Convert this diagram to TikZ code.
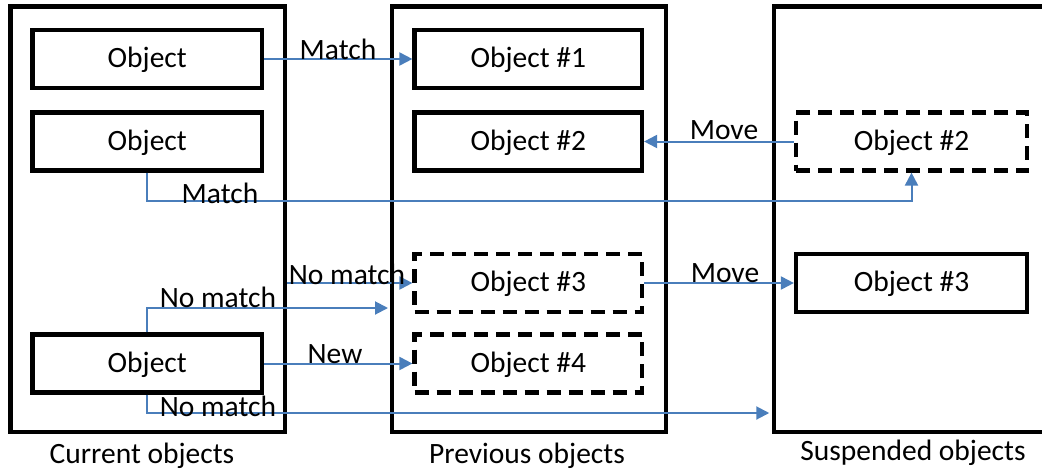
\documentclass[tikz,border=0pt]{standalone}
\usepackage{fontspec}
\setmainfont{Carlito}
\usetikzlibrary{arrows.meta}
\definecolor{linkblue}{RGB}{74,126,187}
\begin{document}
\begin{tikzpicture}[x=1pt,y=-1pt,
  colbox/.style={draw,line width=4.5pt,minimum width=#1,minimum height=425.5pt,inner sep=0pt},
  obj/.style={draw,line width=4.2pt,minimum width=#1,minimum height=58pt,inner sep=0pt,
    text height=17pt,text depth=0pt,font=\fontsize{29.5}{35}\selectfont},
  ghost/.style={dash pattern=on 14pt off 8pt},
  link/.style={linkblue,line width=2pt,-{Triangle[length=13pt,width=13pt]}},
  lbl/.style={anchor=base,inner sep=0pt,font=\fontsize{29.5}{35}\selectfont}
]
\useasboundingbox (0,0) rectangle (1042,469);
\clip (0,0) rectangle (1042,469);

% the three columns
\node[colbox=274.5pt] (cur)  at (147.75,219.25) {};
\node[colbox=274pt]   (prev) at (529,219.25) {};
\node[colbox=276pt]   (susp) at (912,219.25) {};

% current objects
\node[obj=229.5pt] (c1) at (147.25,59) {Object};
\node[obj=229.5pt] (c2) at (147.25,141.5) {Object};
\node[obj=229.5pt] (c3) at (147.25,363.5) {Object};

% previous objects
\node[obj=227.5pt] (p1) at (528.25,59) {Object \#1};
\node[obj=227.5pt] (p2) at (528.25,141.5) {Object \#2};
\node[obj=227.5pt,ghost] (p3) at (528.25,283) {Object \#3};
\node[obj=227.5pt,ghost] (p4) at (528.25,363.5) {Object \#4};

% suspended objects
\node[obj=231pt,ghost] (s2) at (911.5,141.5) {Object \#2};
\node[obj=231pt] (s3) at (911.5,283) {Object \#3};

% free ends of the connectors
\coordinate (nmtop) at (388,308);
\coordinate (nmlow) at (0,413);

% connectors
\draw[link] (c1.east) -- (p1.west);
\draw[link] (s2.west) -- (p2.east);
\draw[link] (c2.south) -- ++(0,28) -| (s2.south);
\draw[link] (p3.east) -- (s3.west);
\draw[link] (cur.east |- p3.west) -- (p3.west);
\draw[link] (c3.north) |- (nmtop);
\draw[link] (c3.east) -- (p4.west);
\draw[link] (c3.south) |- ([xshift=-2.5pt]susp.west |- nmlow);

% connector labels
\node[lbl] (lmatch1) at (338,59) {Match};
\node[lbl] (lmove1)  at (724,139) {Move};
\node[lbl] (lmatch2) at (220,203) {Match};
\node[lbl] (lmove2)  at (725,282) {Move};
\node[lbl] (lnm1)    at (347,284) {No match};
\node[lbl] (lnm2)    at (218,307) {No match};
\node[lbl] (lnew)    at (335,363) {New};
\node[lbl] (lnm3)    at (218,416) {No match};

% column captions
\node[lbl] (tcur)  at (142,463) {Current objects};
\node[lbl] (tprev) at (527,463) {Previous objects};
\node[lbl] (tsusp) at (913,460) {Suspended objects};
\end{tikzpicture}
\end{document}
